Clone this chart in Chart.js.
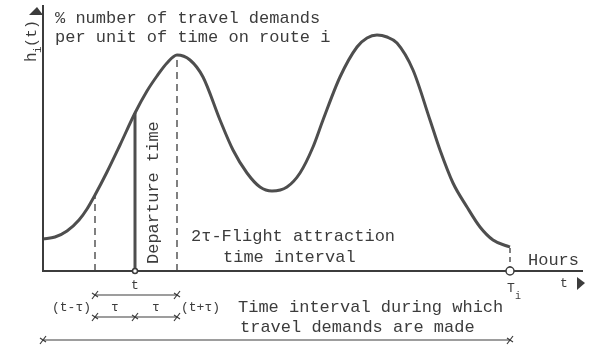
<!DOCTYPE html>
<html>
<head>
<meta charset="utf-8">
<script src="https://cdn.jsdelivr.net/npm/chart.js@4"></script>
<style>
html,body{margin:0;padding:0;background:#fff;}
canvas{display:block;}
</style>
</head>
<body>
<canvas id="c" width="610" height="352"></canvas>
<script>
// time axis (diagram units) and travel-demand curve h_i(t)
const times  = [0, 12, 24, 36, 44, 52, 64, 77, 92, 104, 114, 124, 134, 147, 160, 177, 190, 204, 217, 229, 244, 257, 270, 280, 297, 314, 324, 334, 344, 354, 370, 387, 397, 410, 424, 437, 450, 464, 467];
const demand = [32, 34, 40, 51, 62, 76, 99, 126, 158, 180, 195, 208, 216, 211, 194, 151, 121, 98, 84, 80, 84, 98, 124, 151, 194, 224, 233, 236, 234, 228, 201, 151, 121, 88, 64, 44, 31, 25, 24];
// markers: t-τ, t (departure), t+τ, T_i
const markerNames   = ['(t-τ)', 't', '(t+τ)', 'T_i'];
const markerTimes   = [52, 92, 134, 467];
const markerHeights = [76, 158, 216, 24];

const INK = '#3c3c3c';
const MONO = '"Liberation Mono", "DejaVu Sans Mono", monospace';

const curveData = times.map((t, i) => ({x: t, y: demand[i]}));
const vline = (t, h) => [{x: t, y: 0}, {x: t, y: h}];

const annot = {
  id: 'annot',
  afterDatasetsDraw(chart) {
    const ctx = chart.ctx;
    const xs = chart.scales.x, ys = chart.scales.y;
    const X = v => xs.getPixelForValue(v);
    const Y = v => ys.getPixelForValue(v);
    const x0 = X(0), y0 = Y(0);
    ctx.save();
    ctx.strokeStyle = INK; ctx.fillStyle = INK;
    // axes
    ctx.lineWidth = 2;
    ctx.beginPath();
    ctx.moveTo(x0, 5); ctx.lineTo(x0, y0);
    ctx.lineTo(583, y0);
    ctx.stroke();
    // arrows
    ctx.beginPath();
    ctx.moveTo(37, 7); ctx.lineTo(43, 15); ctx.lineTo(29, 15); ctx.closePath(); ctx.fill();
    ctx.beginPath();
    ctx.moveTo(585, 283); ctx.lineTo(577, 277); ctx.lineTo(577, 290); ctx.closePath(); ctx.fill();
    // circles on the axis
    const tx = X(markerTimes[1]), Tx = X(markerTimes[3]);
    ctx.lineWidth = 1.5;
    ctx.fillStyle = '#fff';
    ctx.beginPath(); ctx.arc(tx, y0, 2.5, 0, Math.PI * 2); ctx.fill(); ctx.stroke();
    ctx.beginPath(); ctx.arc(Tx, y0, 4, 0, Math.PI * 2); ctx.fill(); ctx.stroke();
    ctx.fillStyle = INK;

    // texts
    ctx.textBaseline = 'alphabetic';
    ctx.textAlign = 'left';
    ctx.font = '17px ' + MONO;
    ctx.fillText('% number of travel demands', 55, 23);
    ctx.fillText('per unit of time on route i', 55, 42);
    ctx.fillText('2τ-Flight attraction', 191, 241);
    ctx.fillText('time interval', 223, 262);
    ctx.fillText('Hours', 528, 265);
    ctx.fillText('Time interval during which', 238, 312);
    ctx.fillText('travel demands are made', 240, 332);

    // rotated texts
    ctx.save();
    ctx.translate(158, 264); ctx.rotate(-Math.PI / 2);
    ctx.fillText('Departure time', 0, 0);
    ctx.restore();
    ctx.save();
    ctx.translate(36, 62); ctx.rotate(-Math.PI / 2);
    ctx.font = '16px ' + MONO;
    ctx.fillText('h', 0, 0);
    ctx.font = '11px ' + MONO;
    ctx.fillText('i', 9, 5);
    ctx.font = '15px ' + MONO;
    ctx.fillText('(t)', 15, 0);
    ctx.restore();

    // axis small labels
    ctx.font = '13px ' + MONO;
    ctx.textAlign = 'center';
    ctx.fillText('t', tx, 289);
    ctx.fillText('t', 564, 287);
    ctx.fillText('T', Tx + 1, 292);
    ctx.font = '10px ' + MONO;
    ctx.fillText('i', Tx + 8, 299);

    // bracket labels
    ctx.font = '13px ' + MONO;
    const xa = X(markerTimes[0]), xb = X(markerTimes[2]);
    ctx.textAlign = 'right';
    ctx.fillText(markerNames[0], xa - 4, 311);
    ctx.textAlign = 'left';
    ctx.fillText(markerNames[2], xb + 4, 311);
    ctx.textAlign = 'center';
    ctx.fillText('τ', (xa + tx) / 2, 311);
    ctx.fillText('τ', (tx + xb) / 2, 311);

    // bracket lines with cross ticks
    ctx.lineWidth = 1.2;
    const hline = (a, b, y) => { ctx.beginPath(); ctx.moveTo(a, y); ctx.lineTo(b, y); ctx.stroke(); };
    const cross = (x, y) => {
      ctx.beginPath();
      ctx.moveTo(x - 3, y + 4); ctx.lineTo(x + 3, y - 4);
      ctx.moveTo(x - 3, y - 2); ctx.lineTo(x + 3, y + 2);
      ctx.stroke();
    };
    hline(xa, xb, 295); cross(xa, 295); cross(xb, 295);
    hline(xa, xb, 317); cross(xa, 317); cross(tx, 317); cross(xb, 317);
    hline(x0, Tx, 340); cross(x0, 340); cross(Tx, 340);
    ctx.restore();
  }
};

new Chart(document.getElementById('c'), {
  type: 'line',
  data: {
    datasets: [
      {data: curveData, borderColor: '#4e4e4e', borderWidth: 3, pointRadius: 0, cubicInterpolationMode: 'monotone', fill: false},
      {data: vline(markerTimes[0], markerHeights[0]), borderColor: INK, borderWidth: 1.3, borderDash: [7, 5], pointRadius: 0},
      {data: vline(markerTimes[2], markerHeights[2]), borderColor: INK, borderWidth: 1.3, borderDash: [7, 5], pointRadius: 0},
      {data: vline(markerTimes[3], markerHeights[3]), borderColor: INK, borderWidth: 1.3, borderDash: [5, 4], pointRadius: 0},
      {data: vline(markerTimes[1], markerHeights[1]), borderColor: '#4e4e4e', borderWidth: 3, pointRadius: 0}
    ]
  },
  options: {
    responsive: false,
    animation: false,
    layout: {padding: {left: 43, right: 35, top: 10, bottom: 81}},
    plugins: {legend: {display: false}, tooltip: {enabled: false}},
    scales: {
      x: {type: 'linear', min: 0, max: 532, display: false},
      y: {type: 'linear', min: 0, max: 261, display: false}
    }
  },
  plugins: [annot]
});
</script>
</body>
</html>
